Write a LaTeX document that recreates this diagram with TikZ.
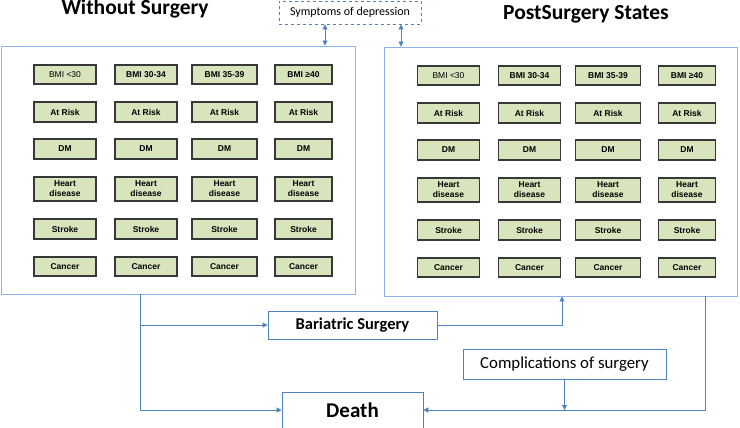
\documentclass[tikz,border=0pt]{standalone}
\usepackage{fontspec}
\setmainfont{Carlito}
\newfontfamily\boxfont{Liberation Sans}
\usepackage{tikz}
\usetikzlibrary{arrows.meta}
\definecolor{lineblue}{RGB}{79,129,189}
\definecolor{panelblue}{RGB}{141,180,226}
\definecolor{statefill}{RGB}{216,228,188}

\begin{document}
\begin{tikzpicture}[x=1pt,y=-1pt]
    \tikzstyle{every node}+=[inner sep=0pt]
    \tikzstyle{state}=[draw=black!78, line width=1.2pt, fill=statefill, align=center,
        font=\boxfont\bfseries\fontsize{8.5}{10}\selectfont]
    \tikzstyle{panel}=[draw=panelblue, line width=0.9pt]
    \tikzstyle{flowbox}=[draw=lineblue, line width=0.8pt, fill=white]
    \tikzstyle{conn}=[draw=lineblue, line width=0.8pt, -{Triangle[length=5pt,width=5pt]}]
    \useasboundingbox (0,0) rectangle (740,428);
    % titles and panels
    \node [anchor=base, font=\bfseries\fontsize{21.5}{24}\selectfont] (tns) at (135,15) {Without Surgery};
    \node [anchor=base, font=\bfseries\fontsize{21.5}{24}\selectfont] (tps) at (586,20) {PostSurgery States};
    \node [panel, minimum width=354, minimum height=248] (nosurg) at (178,170) {};
    \node [panel, minimum width=353, minimum height=249] (postsurg) at (560.5,171.5) {};
    % state boxes
    \foreach \side/\dx/\dy in {ns/0/0, ps/383.5/1}{
      \foreach \cx/\ww/\bmi [count=\c] in {65/62/{\mdseries BMI <30}, 146/62/BMI 30-34,
          224.5/65/BMI 35-39, 303.5/57/BMI ≥40}{
        \node [state, minimum width=\ww, minimum height=19] (\side-bmi\c) at (\cx+\dx,74.5+\dy) {\bmi};
        \foreach \nm/\txt/\cy/\hh in {risk/At Risk/112/20, dm/DM/149/20, heart/{Heart\\disease}/189/24,
            stroke/Stroke/229/20, cancer/Cancer/266.5/19}
          \node [state, minimum width=\ww, minimum height=\hh] (\side-\nm\c) at (\cx+\dx,\cy+\dy) {\txt};
      }
    }
    % other boxes
    \node [flowbox, dashed, minimum width=142, minimum height=23, font=\fontsize{12}{14}\selectfont] (symp) at (350,12.5) {Symptoms of depression};
    \node [flowbox, minimum width=169, minimum height=28, font=\bfseries\fontsize{16.5}{18}\selectfont] (bari) at (352.5,325) {Bariatric Surgery};
    \node [flowbox, minimum width=203, minimum height=30, font=\fontsize{16.8}{19}\selectfont] (compl) at (564.5,364) {Complications of surgery};
    \node [flowbox, minimum width=141, minimum height=36, font=\bfseries\fontsize{21}{24}\selectfont] (death) at (352.5,410) {Death};
    % connectors
    \coordinate (d1) at (325,0);
    \coordinate (d2) at (401,0);
    \coordinate (split) at (140,0);
    \coordinate (up) at (562,0);
    \coordinate (down) at (705,0);
    \draw [conn, {Triangle[length=5pt,width=5pt]}-{Triangle[length=5pt,width=5pt]}] (symp.south -| d1) -- (nosurg.north -| d1);
    \draw [conn, {Triangle[length=5pt,width=5pt]}-{Triangle[length=5pt,width=5pt]}] (symp.south -| d2) -- (postsurg.north -| d2);
    \draw [conn] (nosurg.south -| split) |- (bari.west);
    \draw [conn] (nosurg.south -| split) |- (death.west);
    \draw [conn] (bari.east) -| (postsurg.south -| up);
    \draw [conn] (postsurg.south -| down) |- (death.east);
    \draw [conn] (compl.south) -- (compl.south |- death.east);
\end{tikzpicture}
\end{document}
